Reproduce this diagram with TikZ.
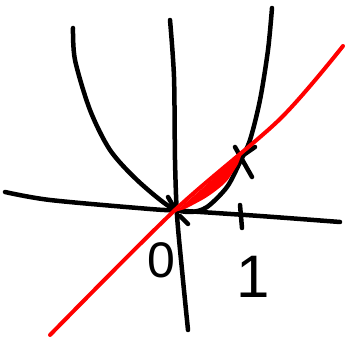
\documentclass[tikz,border=0pt]{standalone}
\usepackage{fontspec}
\setsansfont{Liberation Sans}

\begin{document}
\begin{tikzpicture}[x=1pt,y=-1pt,line cap=round,line join=round,
  pen/.style={draw=black,line width=4.5pt},
  redpen/.style={draw=red,line width=4pt},
  digit/.style={font=\sffamily\fontsize{50}{50}\selectfont,inner sep=0pt}]
  \useasboundingbox (0,0) rectangle (345,344);
  % axes
  \draw[pen] plot[smooth] coordinates {(5,192) (50,200) (150,209) (185,211) (260,216) (340,222)};
  \draw[pen] plot[smooth] coordinates {(170,20) (174,77) (175,160) (177,215) (182,270) (188,330)};
  % parabola
  \draw[pen] plot[smooth] coordinates {(73,28) (75,60) (90,110) (110,150) (137,180) (170,207) (190,212) (207,207) (227,187) (240,162) (250,140) (260,100) (268,50) (272,8)};
  % ticks
  \draw[pen] (235,147) -- (252,177);
  \draw[pen] (242,156) -- (255,147);
  \draw[pen] (240,205) -- (242,228);
  \draw[pen] (168,197) -- (175,209);
  \draw[pen] (180,216) -- (188,224);
  % shaded region
  \fill[red] plot[smooth] coordinates {(175,212) (205,186) (243,151)} -- plot[smooth] coordinates {(238,164) (226,182) (207,197) (185,209)} -- cycle;
  % line
  \draw[redpen] plot[smooth,tension=0.5] coordinates {(50,335) (175,210) (280,119) (343,46)};
  % labels
  \node[digit] (zero) at (161,260) {0};
  \node[digit,font=\sffamily\fontsize{60}{60}\selectfont] (one) at (253,277) {1};
\end{tikzpicture}
\end{document}
